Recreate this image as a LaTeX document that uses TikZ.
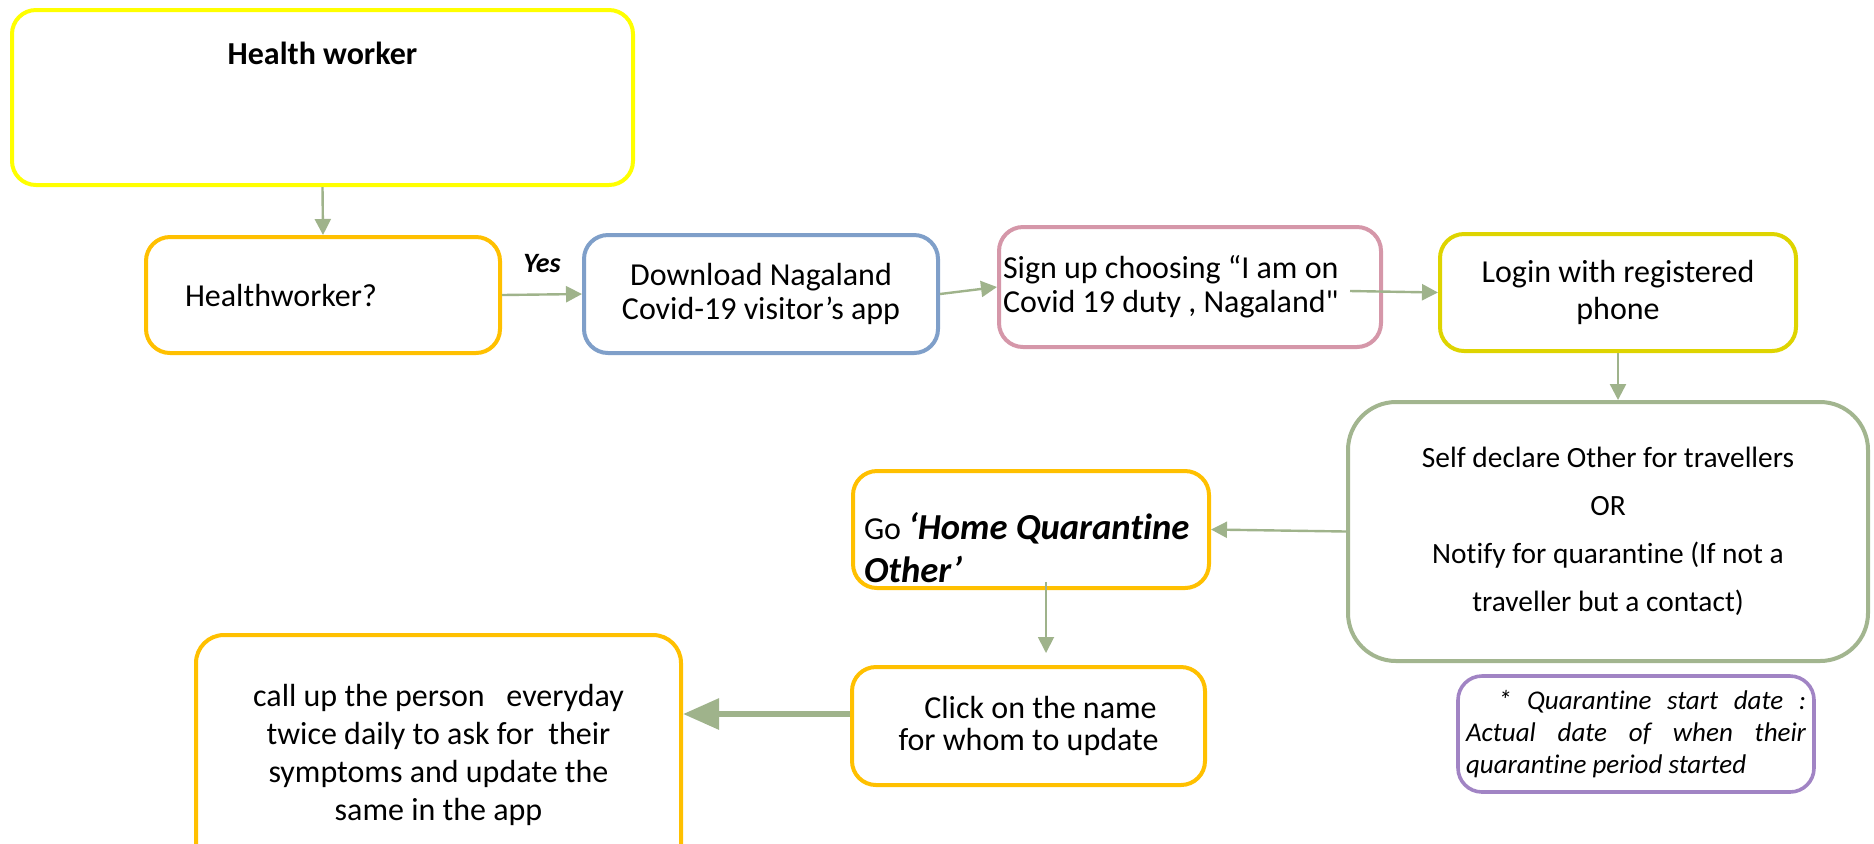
\documentclass[tikz,border=0pt]{standalone}
\usepackage{fontspec}
\setmainfont{Carlito}[Ligatures={TeX,NoCommon}]
\usepackage{xcolor}
\usetikzlibrary{arrows.meta}

\definecolor{hwyellow}{HTML}{FFFF00}
\definecolor{hworange}{HTML}{FFC000}
\definecolor{appblue}{HTML}{7F9FC9}
\definecolor{signpink}{HTML}{D597A9}
\definecolor{loginyellow}{HTML}{DED400}
\definecolor{declgreen}{HTML}{A2B58F}
\definecolor{arrowgreen}{HTML}{9FB38B}
\definecolor{notepurple}{HTML}{A184C4}

\begin{document}
\begin{tikzpicture}[
    x=0.5pt, y=-0.5pt,
    font=\fontsize{16}{17}\selectfont,
    box/.style={rectangle, draw, line width=2pt, rounded corners=12pt, align=center, inner sep=0pt, fill=white},
    flow/.style={-{Triangle[length=8pt,width=8pt]}, draw=arrowgreen, line width=1.2pt},
    bigflow/.style={-{Triangle[length=18pt,width=15pt]}, draw=arrowgreen, line width=3pt}
]
\useasboundingbox (0,0) rectangle (1874,843);

\node (hw) [box, draw=hwyellow, minimum width=310.5pt, minimum height=87.5pt] at (322.5,97.5)
    {\parbox[c][55pt][t]{290pt}{\centering\bfseries Health worker}};
\node (ask) [box, draw=hworange, minimum width=177pt, minimum height=58pt, text width=138pt, align=flush left] at (323,295) {Healthworker?};
\node (dl) [box, draw=appblue, minimum width=177pt, minimum height=59pt] at (761,294) {Download Nagaland\\Covid-19 visitor’s app};
\node (signup) [box, draw=signpink, minimum width=191pt, minimum height=60pt, text width=187pt, align=flush left] at (1190,287)
    {Sign up choosing “I am on\\Covid 19 duty , Nagaland\textquotedbl};
\node (login) [box, draw=loginyellow, minimum width=178pt, minimum height=58.5pt, font=\fontsize{16}{18.5}\selectfont] at (1618,292.5) {Login with registered\\phone};
\node (declare) [box, draw=declgreen, rounded corners=24pt, minimum width=260pt, minimum height=129.5pt, font=\fontsize{14.7}{24}\selectfont] at (1608,531.5)
    {Self declare Other for travellers\\OR\\Notify for quarantine (If not a\\traveller but a contact)};
\node (home) [box, draw=hworange, minimum width=178pt, minimum height=58.5pt] at (1031,529.5)
    {\parbox[c][53.5pt][b]{167pt}{\fontsize{16}{21.5}\selectfont\raggedright Go {\fontsize{18.3}{21.5}\selectfont\bfseries\itshape ‘Home Quarantine\\Other’}}};
\node (click) [box, draw=hworange, minimum width=176.5pt, minimum height=59pt, font=\fontsize{16}{16}\selectfont] at (1028.5,726)
    {\hspace*{12pt}Click on the name\\for whom to update};
\node (call) [box, draw=hworange, rounded corners=14pt, minimum width=242.5pt, minimum height=120pt, font=\fontsize{16}{19}\selectfont] at (438.5,755)
    {call up the person\ \ \ everyday\\twice daily to ask for\ \ their\\symptoms and update the\\same in the app};
\node (note) [box, draw=notepurple, line width=1.8pt, minimum width=178pt, minimum height=58pt, text width=170pt, align=justify,
    font=\fontsize{13.5}{16}\selectfont\itshape] at (1636,734)
    {\hspace*{16pt}* Quarantine start date :\linebreak Actual date of when their\linebreak quarantine period started};

\draw [flow] (hw.south) -- (ask.north);
\draw [flow] (ask.east) -- node[above=7pt, font=\fontsize{14}{16}\selectfont\bfseries\itshape] {Yes} (dl.west);
\draw [flow] (dl.east) -- (signup.west);
\draw [flow] ([xshift=-16.5pt,yshift=-2pt]signup.east) -- (login.west);
\draw [flow] (login.south) -- (login.south |- declare.north);
\draw [flow] (declare.west) -- (home.east);
\draw [flow, line width=0.9pt] ([xshift=7.5pt,yshift=4pt]home.south) -- ([xshift=8.75pt,yshift=6pt]click.north);
\draw [bigflow] ([yshift=6pt]click.west) -- ([yshift=6pt]click.west -| call.east);
\end{tikzpicture}
\end{document}
